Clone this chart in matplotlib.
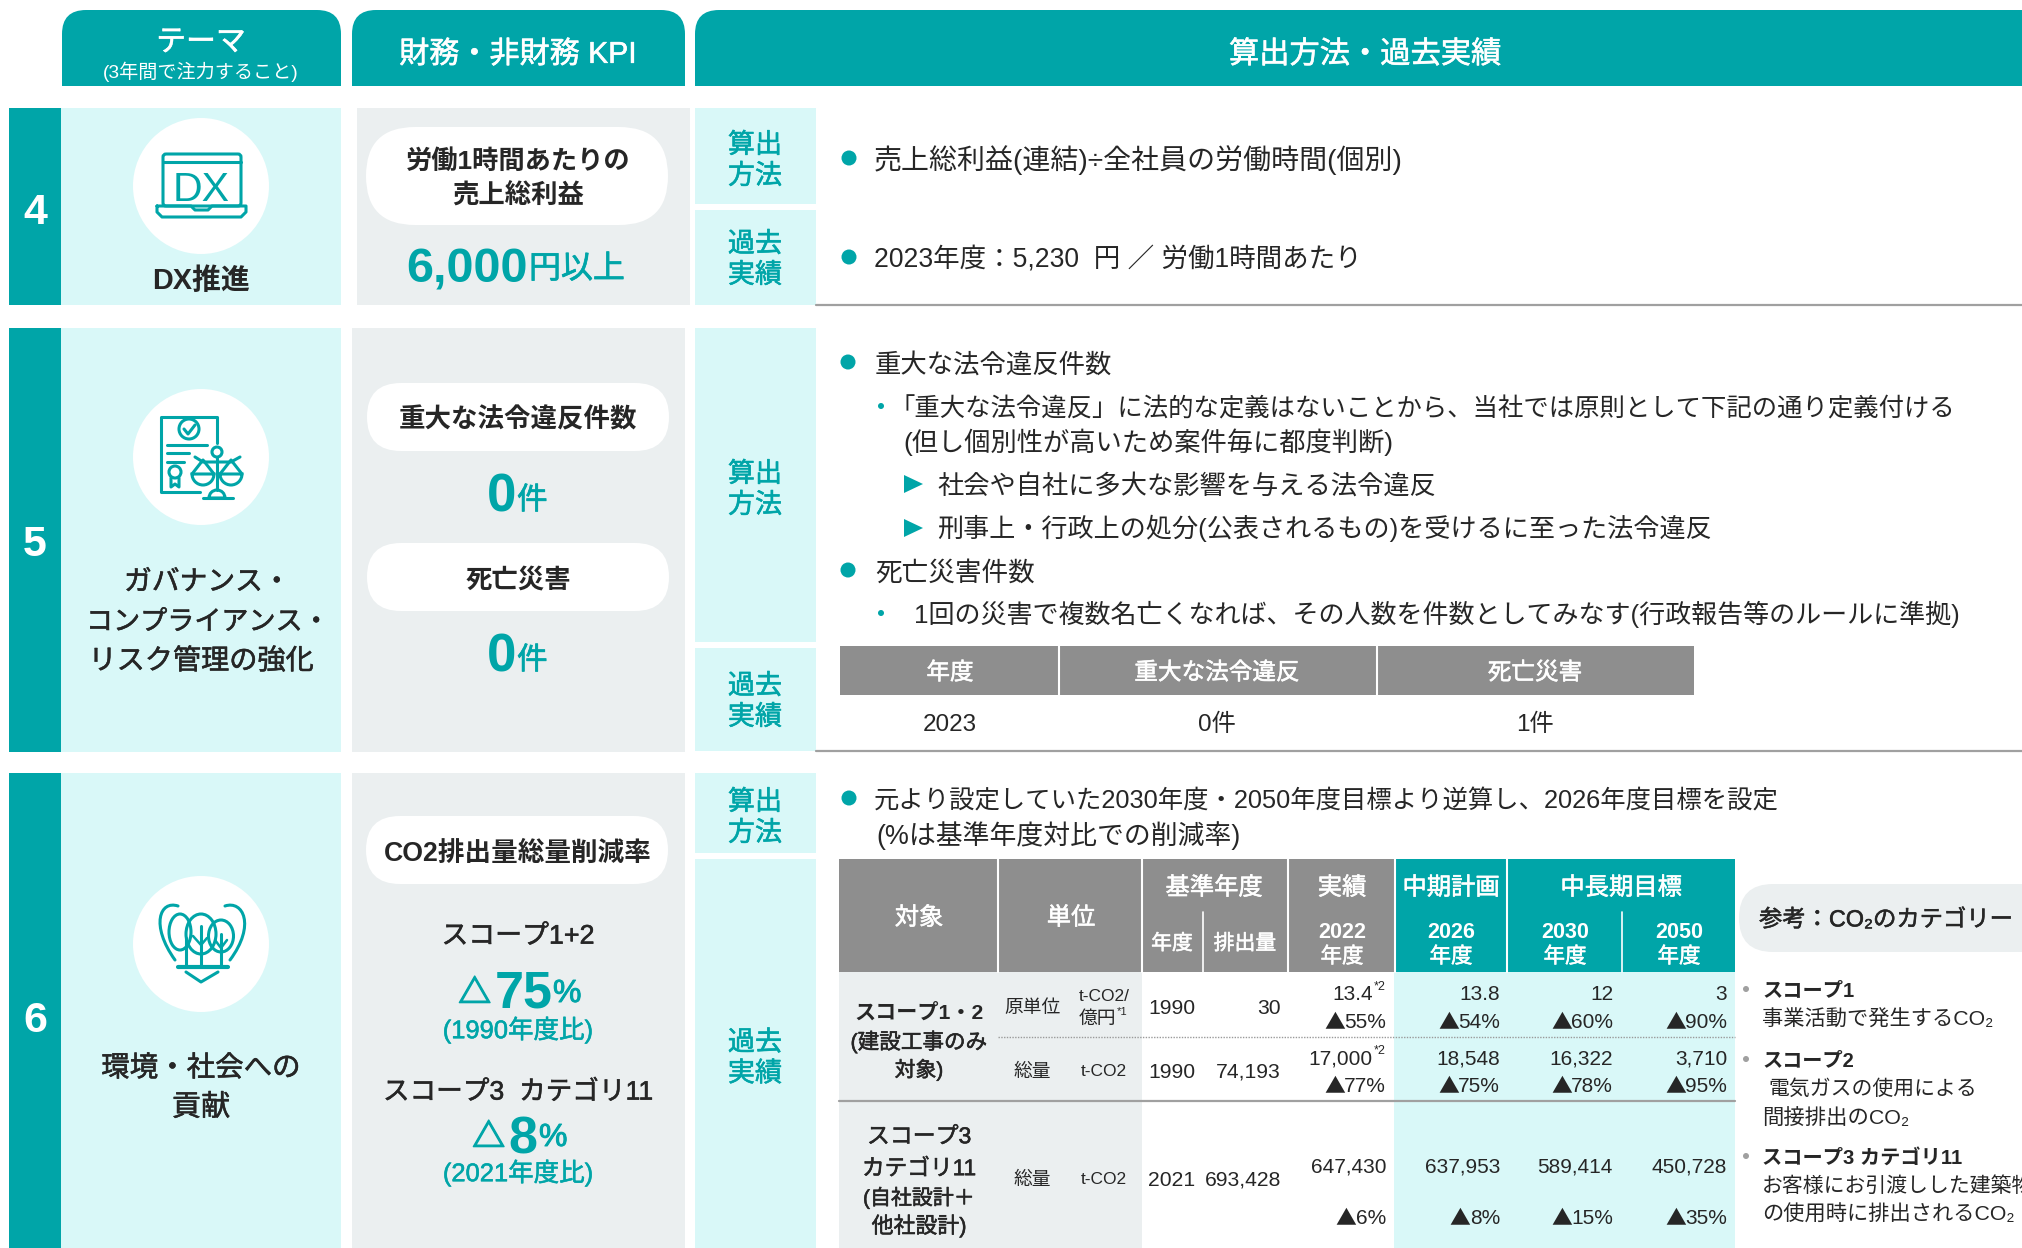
import matplotlib
matplotlib.use("Agg")
import matplotlib.pyplot as plt
import matplotlib.patheffects as pe
from matplotlib.patches import Rectangle, FancyBboxPatch, Circle, Ellipse, PathPatch, Polygon, Wedge
from matplotlib.path import Path

plt.rcParams['font.family'] = ['Liberation Sans', 'Noto Sans CJK JP', 'DejaVu Sans']

TEAL = "#00a5a8"
LIGHT = "#d9f8f8"
GRAY = "#ebeff0"
HEAD = "#8e8e8e"
INK = "#262626"

# table values
row_names = ["原単位", "総量", "総量"]
row_units = ["t-CO2/\n億円", "t-CO2", "t-CO2"]
base_years = ["1990", "1990", "2021"]
base_emissions = ["30", "74,193", "693,428"]
actual_2022 = ["13.4", "17,000", "647,430"]
actual_2022_pct = ["▲55%", "▲77%", "▲6%"]
plan_2026 = ["13.8", "18,548", "637,953"]
plan_2026_pct = ["▲54%", "▲75%", "▲8%"]
goal_2030 = ["12", "16,322", "589,414"]
goal_2030_pct = ["▲60%", "▲78%", "▲15%"]
goal_2050 = ["3", "3,710", "450,728"]
goal_2050_pct = ["▲90%", "▲95%", "▲35%"]
year_heads = ["2022", "2026", "2030", "2050"]
mini_heads = ["年度", "重大な法令違反", "死亡災害"]
mini_values = ["2023", "0件", "1件"]

fig = plt.figure(figsize=(20.22, 12.48), dpi=100)
ax = fig.add_axes([0, 0, 1, 1])
ax.set_xlim(0, 2022)
ax.set_ylim(1248, 0)
ax.axis("off")
renderer = fig.canvas.get_renderer()


def raw(x, y, s, size, color=TEAL, weight="normal", ha="left", heavy=0, family=None):
    # y is the baseline here; heavy thickens the regular face to look like a medium one
    t = ax.text(x, y, s, fontsize=size, color=color, fontweight=weight, ha=ha, va="baseline")
    if family:
        t.set_fontfamily(family)
    if heavy:
        t.set_path_effects([pe.withStroke(linewidth=heavy, foreground=color)])
    return t


def put(x, y, s, size, color=INK, weight="normal", ha="center", w=None):
    # y is the middle of the CJK glyphs, w the width in the reference
    heavy = 0
    if weight == "medium":
        weight = "normal"
        heavy = 0.4
    t = raw(x, y, s, size, color, weight, ha, heavy)
    if w is not None:
        size = size * w / t.get_window_extent(renderer).width
        t.set_fontsize(size)
    t.set_y(y + 0.36 * size * 100 / 72)
    return t


def pct(right, y, s, size=15):
    # the ▲ of Liberation Sans is too small, so it comes from the CJK font
    t = put(right, y, s[1:], size, ha="right")
    width = t.get_window_extent(renderer).width
    raw(right - width + 1, y + 0.36 * size * 100 / 72, s[0], size, INK, ha="right", family=["Noto Sans CJK JP"])


def box(x0, y0, x1, y1, color):
    ax.add_patch(Rectangle((x0, y0), x1 - x0, y1 - y0, fc=color, ec="none"))


def pill(x0, y0, x1, y1, color="white"):
    r = (y1 - y0) / 2
    ax.add_patch(FancyBboxPatch((x0, y0), x1 - x0, y1 - y0, boxstyle=f"round,pad=0,rounding_size={r}",
                                fc=color, ec="none"))


def header(x0, x1, y0=10, y1=86, r=24):
    v = [(x0, y1), (x0, y0 + r), (x0, y0), (x0 + r, y0), (x1 - r, y0), (x1, y0), (x1, y0 + r), (x1, y1), (x0, y1)]
    c = [Path.MOVETO, Path.LINETO, Path.CURVE3, Path.CURVE3, Path.LINETO, Path.CURVE3, Path.CURVE3, Path.LINETO, Path.CLOSEPOLY]
    ax.add_patch(PathPatch(Path(v, c), fc=TEAL, ec="none"))


def stroke(pts, lw=2.2, color=TEAL):
    xs = [p[0] for p in pts]
    ys = [p[1] for p in pts]
    ax.plot(xs, ys, color=color, lw=lw, solid_capstyle="round", solid_joinstyle="round")


def curve(pts, lw=2.2):
    c = [Path.MOVETO] + [Path.CURVE4] * (len(pts) - 1)
    ax.add_patch(PathPatch(Path(pts, c), fc="none", ec=TEAL, lw=lw, capstyle="round"))


def ring(x, y, r, lw=2.2):
    ax.add_patch(Circle((x, y), r, fc="none", ec=TEAL, lw=lw))


def dot(x, y, r=7.5, color=TEAL):
    ax.add_patch(Ellipse((x, y), r * 2, r * 2, fc=color, ec="none"))


def tri(x, y):
    ax.add_patch(Polygon([(x, y - 9), (x + 19, y), (x, y + 9)], fc=TEAL, ec="none"))


# headers
header(62, 341)
header(352, 685)
header(695, 2060)
put(201, 40, "テーマ", 21.5, "white", "medium")
put(201, 71, "(3年間で注力すること)", 12, "white", w=195)
put(518, 52, "財務・非財務 KPI", 22, "white", "medium", w=237)
put(1365, 52, "算出方法・過去実績", 21, "white", "medium", w=272)

# bands
for y0, y1, num, ny in [(108, 305, "4", 208), (328, 752, "5", 540), (773, 1248, "6", 1017)]:
    box(9, y0, 61, y1, TEAL)
    box(61, y0, 341, y1, LIGHT)
    box(352 if num != "4" else 357, y0, 685 if num != "4" else 690, y1, GRAY)
    put(35, ny, num, 31, "white", "bold")

for y0, y1, pair, nudge in [(108, 204, "算出方法", 2.5), (210, 305, "過去実績", 0), (328, 642, "算出方法", 2.5),
                            (648, 751, "過去実績", 0), (773, 853, "算出方法", 2.5), (859, 1248, "過去実績", 2.5)]:
    box(695, y0, 816, y1, LIGHT)
    ym = (y0 + y1) / 2 + nudge
    put(755, ym - 15.5, pair[:2], 19.5, TEAL, "medium")
    put(755, ym + 15.5, pair[2:], 19.5, TEAL, "medium")

stroke([(816, 305), (2022, 305)], 1.6, "#a0a0a0")
stroke([(816, 751), (2022, 751)], 1.6, "#a0a0a0")

# theme column
for cy in [186, 457, 944]:
    ax.add_patch(Circle((201, cy), 68, fc="white", ec="none"))
put(201, 279, "DX推進", 20.5, INK, "bold", w=98)
put(124, 580, "ガバナンス・", 20, INK, "medium", ha="left")
put(86, 620, "コンプライアンス・", 19.5, INK, "medium", ha="left")
put(201, 659, "リスク管理の強化", 20, INK, "medium", w=225)
put(201, 1066, "環境・社会への", 20.5, INK, "medium")
put(201, 1105, "貢献", 21, INK, "medium")

# DX icon
ax.add_patch(FancyBboxPatch((163, 154), 78, 52, boxstyle="round,pad=0,rounding_size=3", fc="none", ec=TEAL, lw=2.2))
stroke([(163, 162), (241, 162)])
put(201, 186, "DX", 30, TEAL, w=57)
stroke([(157, 206), (191, 206), (195, 210), (208, 210), (212, 206), (246, 206), (246, 212), (241, 217), (162, 217), (157, 212), (157, 206)])

# document and scales icon
stroke([(217, 443), (217, 417), (161, 417), (161, 492), (200, 492)])
ring(189, 429, 10)
stroke([(184, 429), (188, 434), (195, 425)])
stroke([(167, 445), (207, 445)])
stroke([(167, 453), (189, 453)])
stroke([(167, 462), (184, 462)])
ring(175, 472, 6)
stroke([(171, 478), (171, 487), (175, 484), (179, 487), (179, 478)])
ring(217, 452, 5)
stroke([(217, 457), (217, 490)])
stroke([(195, 457), (203, 462), (231, 462), (240, 457)])
for px in [203, 231]:
    ax.add_patch(Wedge((px, 474), 11, 0, 180, fc="none", ec=TEAL, lw=2.2))
    stroke([(px - 11, 474), (px, 460), (px + 11, 474)])
ax.add_patch(Wedge((217, 498), 8, 180, 360, fc="none", ec=TEAL, lw=2.2))
stroke([(203, 498), (233, 498)])

# trees icon
curve([(178, 906), (160, 900), (150, 925), (175, 960)])
curve([(225, 906), (243, 900), (256, 925), (230, 960)])
ax.add_patch(Ellipse((201, 934), 30, 40, fc="none", ec=TEAL, lw=2.2))
ax.add_patch(Ellipse((180, 932), 22, 36, fc="none", ec=TEAL, lw=2.2))
ax.add_patch(Ellipse((221, 936), 25, 32, fc="none", ec=TEAL, lw=2.2))
stroke([(178, 967), (228, 967)], 3)
stroke([(186, 972), (201, 982), (218, 972)])
stroke([(186, 938), (186, 967)])
stroke([(201, 926), (201, 967)])
stroke([(221, 934), (221, 967)])
stroke([(193, 936), (201, 945), (207, 938)], 1.8)
stroke([(215, 940), (221, 948), (227, 940)], 1.8)

# KPI column
pill(366, 127, 668, 225)
put(518, 159, "労働1時間あたりの", 19, INK, "bold", w=225)
put(518, 194, "売上総利益", 19, INK, "bold")
raw(528, 282, "6,000", 35, TEAL, "bold", "right")
raw(529, 278, "円以上", 23, heavy=0.5)

pill(367, 383, 669, 451)
put(518, 418, "重大な法令違反件数", 19, INK, "bold", w=238)
pill(367, 543, 669, 611)
put(518, 578, "死亡災害", 19, INK, "bold")
for base in [511, 671]:
    raw(516, base, "0", 38, TEAL, "bold", "right")
    raw(517, base - 2, "件", 22, heavy=0.5)

pill(366, 816, 668, 884)
put(518, 851, "CO2排出量総量削減率", 19, INK, "bold", w=267)
put(518, 934, "スコープ1+2", 19, INK, "medium", w=153)
raw(491, 1003, "△", 23.5, weight="bold", ha="right", heavy=1)
raw(553, 1008, "75", 37.5, TEAL, "bold", "right")
raw(553, 1002, "%", 23, heavy=0.7)
put(518, 1029, "(1990年度比)", 17.5, TEAL, "medium", w=150)
put(518, 1090, "スコープ3  カテゴリ11", 19, INK, "medium", w=270)
raw(505, 1147, "△", 23.5, weight="bold", ha="right", heavy=1)
raw(537, 1153, "8", 37.5, TEAL, "bold", "right")
raw(539, 1146, "%", 23, heavy=0.7)
put(518, 1172, "(2021年度比)", 17.5, TEAL, "medium", w=150)

# text of row 4
dot(849, 158)
put(874, 159, "売上総利益(連結)÷全社員の労働時間(個別)", 18, ha="left", w=528)
dot(849, 257)
put(874, 258, "2023年度：5,230  円 ／ 労働1時間あたり", 18, ha="left", w=489)

# text of row 5
dot(848, 362)
put(875, 363, "重大な法令違反件数", 18.5, ha="left", w=238)
dot(881, 406, 3)
put(889, 407, "「重大な法令違反」に法的な定義はないことから、当社では原則として下記の通り定義付ける", 18.5, ha="left", w=1067)
put(903, 442, "(但し個別性が高いため案件毎に都度判断)", 18.5, ha="left", w=492)
tri(904, 484)
put(937, 484, "社会や自社に多大な影響を与える法令違反", 18.5, ha="left", w=500)
tri(904, 528)
put(937, 528, "刑事上・行政上の処分(公表されるもの)を受けるに至った法令違反", 18.5, ha="left", w=776)
dot(848, 570)
put(875, 571, "死亡災害件数", 18.5, ha="left", w=160)
dot(881, 613, 3)
put(914, 614, "1回の災害で複数名亡くなれば、その人数を件数としてみなす(行政報告等のルールに準拠)", 18.5, ha="left", w=1050)

box(840, 646, 1694, 695, HEAD)
mini_x = [950, 1217, 1535]
for i in range(3):
    put(mini_x[i], 671, mini_heads[i], 17, "white", "medium")
    put(mini_x[i], 722, mini_values[i], 17.5)
for sx in [1059, 1377]:
    stroke([(sx, 646), (sx, 695)], 1.5, "white")

# text of row 6
dot(849, 798)
put(874, 799, "元より設定していた2030年度・2050年度目標より逆算し、2026年度目標を設定", 18.5, ha="left", w=906)
put(876, 834, "(%は基準年度対比での削減率)", 18.5, ha="left", w=365)

# big table
box(839, 859, 1394, 972, HEAD)
box(1394, 859, 1735, 972, TEAL)
box(839, 972, 1142, 1248, GRAY)
box(1394, 972, 1735, 1248, LIGHT)
for sx in [998, 1142, 1288, 1395, 1507]:
    stroke([(sx, 859), (sx, 972)], 1.5, "white")
for sx in [1203, 1622]:
    stroke([(sx, 912), (sx, 972)], 1.2, "white")
ax.plot([998, 1735], [1037, 1037], color="#9a9a9a", lw=1, ls=(0, (1, 1)))
stroke([(839, 1101), (1735, 1101)], 1.6, "#a0a0a0")

put(919, 916, "対象", 17.5, "white", "medium")
put(1071, 916, "単位", 17.5, "white", "medium")
put(1214, 886, "基準年度", 17.5, "white", "medium")
put(1342, 886, "実績", 17.5, "white", "medium")
put(1451, 886, "中期計画", 17.5, "white", "medium")
put(1621, 886, "中長期目標", 17.5, "white", "medium")
put(1172, 942, "年度", 15, "white", "medium")
put(1245, 942, "排出量", 15, "white", "medium")
head_x = [1342, 1451, 1565, 1679]
for i in range(4):
    put(head_x[i], 930, year_heads[i], 15.5, "white", "bold")
    put(head_x[i], 955, "年度", 15.5, "white", "medium")

put(919, 1011, "スコープ1・2", 16.5, INK, "bold", w=129)
put(919, 1041, "(建設工事のみ", 15, INK, "medium", w=137)
put(919, 1069, "対象)", 15, INK, "medium")
put(919, 1135, "スコープ3", 16.5, INK, "medium")
put(919, 1167, "カテゴリ11", 16.5, INK, "medium", w=114)
put(919, 1197, "(自社設計＋", 15, INK, "medium", w=112)
put(919, 1225, "他社設計)", 15, INK, "medium", w=95)

row_y = [1006, 1070, 1178]
value_y = [993, 1057, 1165]
pct_y = [1021, 1085, 1217]
for i in range(3):
    put(1032, row_y[i], row_names[i], 13.5)
    if "\n" in row_units[i]:
        unit = row_units[i].split("\n")
        put(1104, 995, unit[0], 12.5)
        put(1097, 1017, unit[1], 13.5)
        put(1122, 1011, "*1", 8)
    else:
        put(1104, row_y[i], row_units[i], 12.5)
    put(1172, row_y[i], base_years[i], 15.2)
    put(1281, row_y[i], base_emissions[i], 15.2, ha="right")
    for right, vals, pcts in [(1386, actual_2022, actual_2022_pct), (1500, plan_2026, plan_2026_pct),
                              (1613, goal_2030, goal_2030_pct), (1727, goal_2050, goal_2050_pct)]:
        vx = right
        if right == 1386 and i < 2:
            vx = 1373
            put(1386, value_y[i] - 7, "*2", 9, ha="right")
        put(vx, value_y[i], vals[i], 15, ha="right")
        pct(right, pct_y[i], pcts[i])

# reference panel
pill(1739, 884, 2100, 952, GRAY)
put(1759, 918, "参考：CO₂のカテゴリー", 17, INK, "medium", ha="left", w=254)
for by in [989, 1059, 1156]:
    dot(1746, by, 3, "#a0a0a0")
put(1762, 989, "スコープ1", 14.5, INK, "bold", ha="left", w=92)
put(1762, 1018, "事業活動で発生するCO₂", 14.5, ha="left", w=231)
put(1762, 1059, "スコープ2", 14.5, INK, "bold", ha="left", w=92)
put(1768, 1087, "電気ガスの使用による", 14.5, ha="left", w=208)
put(1762, 1116, "間接排出のCO₂", 14.5, ha="left", w=147)
put(1762, 1156, "スコープ3 カテゴリ11", 14.5, INK, "bold", ha="left", w=200)
put(1762, 1184, "お客様にお引渡しした建築物", 15, ha="left")
put(1762, 1213, "の使用時に排出されるCO₂", 14.5, ha="left", w=252)

fig.savefig("out.png", dpi=100)
plt.close(fig)
